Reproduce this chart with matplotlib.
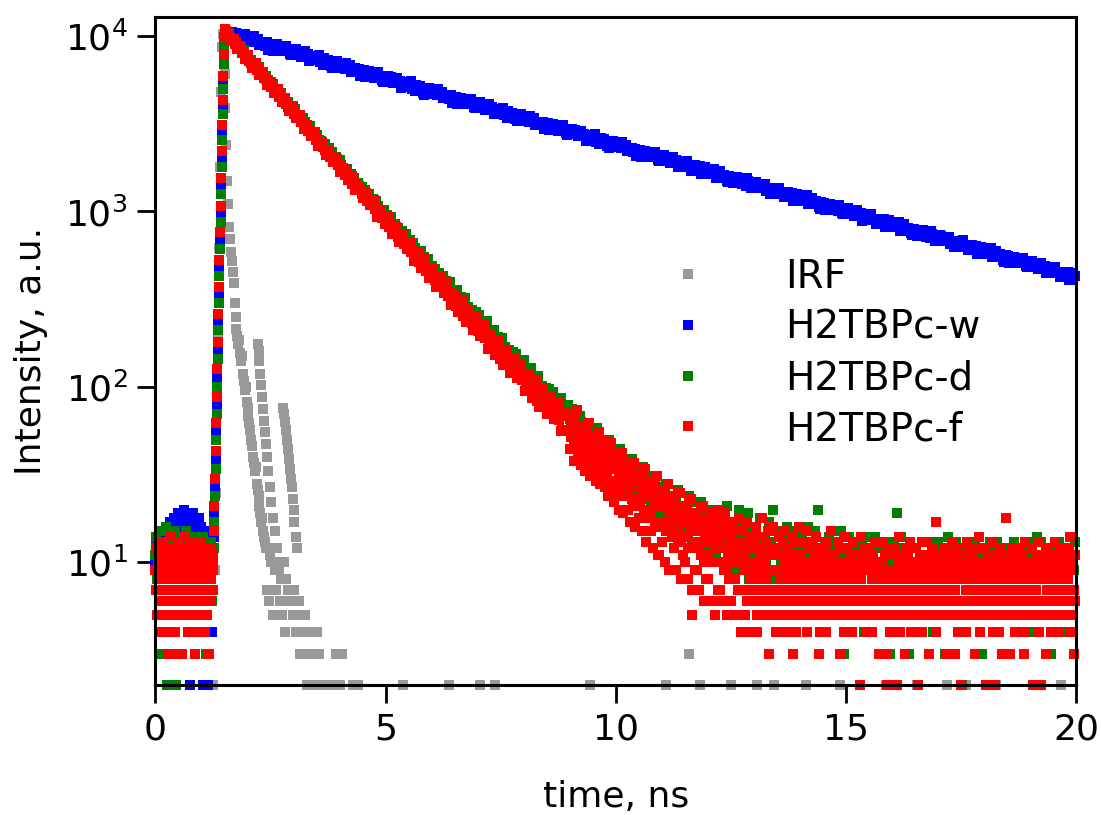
import numpy as np
import matplotlib
matplotlib.use("Agg")
import matplotlib.pyplot as plt
from matplotlib.ticker import NullLocator, FixedLocator

plt.rcParams['font.family'] = ['DejaVu Sans']
plt.rcParams['mathtext.fontset'] = 'dejavusans'

# ---------------- data (counts) ----------------
labels = ["IRF", "H2TBPc-w", "H2TBPc-d", "H2TBPc-f"]
colors = ["#999999", "#0000ff", "#008000", "#ff0000"]

# channel grids (ns)
pre_step, rise_start, rise_step = 0.02, 1.27, 0.012
blue_start, blue_step = 1.52, 0.05
blue2_start, blue2_step = 1.545, 0.1
dec_start, dec_step = 1.52, 0.04
dec2_start, dec2_step = 1.54, 0.08
tail_start, tail_step = 9.0, 0.025
pre2_start, tail2_start = 0.01, 9.0125

red_pre = [9, 12, 7, 10, 5, 11, 8, 13, 9, 6, 10, 12, 4, 9, 11, 8, 14, 7, 10, 12,
           9, 3, 11, 8, 13, 10, 6, 12, 9, 11, 7, 14, 10, 8, 12, 5, 9, 11, 13, 7,
           10, 9, 4, 12, 8, 11, 10, 6, 13, 9, 7, 11, 10, 12, 5, 9, 8, 11, 3, 10,
           12, 7, 9, 11]
red_pre2 = [7, 5, 10, 6, 8, 4, 9, 7, 11, 5, 8, 6, 10, 3, 7, 9, 5, 8, 6, 12,
            7, 4, 9, 6, 8, 5, 10, 7, 3, 9, 6, 8, 11, 5, 7, 4, 9, 6, 8, 10,
            5, 7, 3, 9, 6, 8, 4, 11, 7, 5, 9, 6, 10, 4, 8, 7, 5, 9, 3, 6,
            8, 10, 7]
green_pre = [11, 14, 8, 10, 3, 12, 9, 15, 13, 7, 11, 16, 10, 2, 12, 9, 14, 11, 6, 13,
             10, 15, 2, 12, 8, 11, 14, 9, 12, 10, 7, 13, 11, 15, 9, 12, 4, 10, 13, 8,
             11, 14, 10, 6, 12, 9, 13, 11, 5, 10, 12, 8, 14, 11, 9, 3, 12, 10, 7, 11,
             13, 6, 10, 12]
blue_pre = [10, 13, 9, 12, 8, 14, 11, 3, 12, 15, 10, 13, 16, 11, 14, 12, 17, 10, 15, 13,
            18, 12, 16, 14, 11, 19, 15, 13, 17, 12, 16, 20, 14, 11, 18, 13, 15, 2, 12, 17,
            14, 19, 11, 16, 13, 15, 12, 18, 14, 10, 16, 13, 2, 12, 15, 11, 14, 2, 13, 10,
            12, 4, 11, 9]

blue_rise = [14, 19, 27, 38, 55, 78, 112, 160, 230, 330, 470, 680, 960, 1380, 1950,
             2800, 3900, 5400, 7300, 9300]
green_rise = [12, 17, 24, 34, 50, 70, 100, 145, 210, 300, 430, 610, 870, 1250, 1780,
              2550, 3600, 5000, 6900, 9000]
red_rise = [15, 21, 30, 43, 62, 88, 126, 180, 260, 370, 530, 760, 1080, 1550, 2200,
            3100, 4300, 5900, 7900, 9800]

blue_decay = [
    10660, 10050, 10380, 10590, 9890, 10000, 9520, 10120, 9630, 9830,
    9490, 9790, 9230, 9330, 9620, 8890, 9180, 8820, 9190, 8480,
    9050, 8710, 8290, 8730, 8400, 8740, 8160, 8340, 7930, 8100,
    8050, 7820, 8230, 7610, 7930, 7630, 7860, 7260, 7570, 7570,
    7530, 7100, 7330, 7480, 6980, 7060, 6720, 7140, 6800, 6940,
    6700, 6910, 6520, 6590, 6790, 6280, 6480, 6230, 6490, 5990,
    6390, 6150, 5850, 6160, 5930, 6170, 5760, 5890, 5600, 5720,
    5690, 5530, 5810, 5370, 5600, 5390, 5550, 5130, 5350, 5350,
    5320, 5010, 5170, 5280, 4930, 4990, 4740, 5040, 4800, 4900,
    4730, 4880, 4600, 4660, 4800, 4440, 4580, 4400, 4580, 4230,
    4510, 4340, 4130, 4350, 4190, 4360, 4070, 4160, 3960, 4040,
    4020, 3900, 4100, 3800, 3960, 3800, 3920, 3620, 3780, 3780,
    3760, 3540, 3650, 3730, 3480, 3520, 3350, 3560, 3390, 3460,
    3340, 3450, 3250, 3290, 3390, 3130, 3230, 3110, 3240, 2990,
    3190, 3070, 2920, 3070, 2960, 3080, 2870, 2940, 2790, 2850,
    2840, 2750, 2900, 2680, 2790, 2690, 2770, 2560, 2670, 2670,
    2650, 2500, 2580, 2630, 2460, 2490, 2370, 2520, 2400, 2450,
    2360, 2430, 2300, 2320, 2390, 2210, 2280, 2190, 2280, 2110,
    2250, 2170, 2060, 2170, 2090, 2170, 2030, 2070, 1970, 2020,
    2000, 1950, 2050, 1890, 1970, 1900, 1960, 1810, 1880, 1880,
    1930, 1780, 1820, 1720, 1830, 1740, 1810, 1640, 1710, 1730,
    1630, 1730, 1650, 1560, 1660, 1690, 1560, 1600, 1500, 1600,
    1570, 1480, 1530, 1560, 1460, 1480, 1400, 1490, 1420, 1450,
    1400, 1440, 1360, 1380, 1420, 1310, 1350, 1300, 1360, 1250,
    1360, 1260, 1290, 1210, 1290, 1230, 1280, 1160, 1210, 1220,
    1150, 1230, 1170, 1100, 1170, 1190, 1100, 1130, 1060, 1130,
    1120, 1080, 1030, 1080, 1040, 1080, 1010, 1030, 980, 1000,
    999, 970, 1021, 944, 983, 946, 975, 900, 939, 939,
    962, 890, 909, 856, 911, 867, 903, 817, 853, 862,
    815, 866, 825, 777, 827, 844, 780, 797, 751, 798,
    785, 740, 765, 780, 728, 737, 701, 745, 710, 724,
    699, 721, 680, 688, 708, 655, 676, 650, 677, 625,
    679, 628, 642, 605, 644, 613, 638, 578, 602, 609,
    575, 612, 583, 549, 583, 595, 551, 563, 530, 563,
    560, 539, 513, 541, 520, 541, 506, 516, 491, 502,
    498, 484, 510, 470, 491, 472, 486, 449, 469, 468,
    480, 444, 453, 427, 454, 433, 450, 408, 425, 429]

blue_decay2 = [
    10500, 9718, 10355, 9287, 10195, 9351, 9941, 8848, 9238, 8367,
    8222, 8940, 8194, 8800, 7752, 8420, 7801, 8209, 7154, 7704,
    7792, 6863, 7313, 6559, 7200, 6604, 7020, 6248, 6524, 5909,
    5806, 6314, 5787, 6215, 5474, 5946, 5509, 5797, 5052, 5441,
    5502, 4846, 5164, 4631, 5084, 4664, 4957, 4412, 4607, 4173,
    4100, 4458, 4086, 4389, 3866, 4199, 3890, 4094, 3568, 3842,
    3886, 3423, 3647, 3271, 3590, 3293, 3501, 3116, 3254, 2947,
    2896, 3149, 2886, 3100, 2730, 2966, 2748, 2891, 2520, 2714,
    2744, 2417, 2576, 2310, 2536, 2326, 2472, 2201, 2298, 2081,
    2045, 2224, 2038, 2189, 1928, 2095, 1941, 2042, 1780, 1917,
    1938, 1707, 1818, 1631, 1790, 1642, 1746, 1554, 1622, 1469,
    1444, 1570, 1439, 1545, 1361, 1479, 1370, 1442, 1256, 1353,
    1368, 1205, 1284, 1152, 1264, 1160, 1233, 1097, 1146, 1038,
    1020, 1109, 1016, 1092, 962, 1044, 968, 1018, 887, 956,
    967, 851, 907, 814, 893, 819, 871, 775, 809, 733,
    720, 783, 718, 771, 679, 738, 683, 719, 627, 675,
    683, 601, 641, 574, 631, 578, 615, 547, 571, 518,
    509, 553, 507, 544, 480, 521, 483, 508, 443, 477,
    482, 425, 452, 406, 445]

red_decay = [
    10940, 10170, 10110, 9460, 9620, 9000, 9150, 8630, 8710, 7970,
    8100, 7530, 7770, 7330, 7020, 6920, 6930, 6390, 6450, 6130,
    6180, 5740, 5710, 5340, 5430, 5090, 5170, 4880, 4920, 4500,
    4580, 4250, 4390, 4140, 3960, 3910, 3910, 3610, 3640, 3460,
    3490, 3240, 3230, 3020, 3070, 2870, 2920, 2750, 2780, 2540,
    2590, 2400, 2480, 2340, 2240, 2210, 2210, 2040, 2060, 1960,
    1970, 1830, 1820, 1700, 1730, 1620, 1650, 1560, 1570, 1440,
    1460, 1360, 1400, 1320, 1260, 1250, 1250, 1150, 1160, 1100,
    1133, 1039, 1040, 961, 992, 918, 947, 885, 903, 812,
    841, 759, 814, 755, 716, 713, 727, 649, 671, 629,
    650, 587, 593, 541, 568, 518, 542, 503, 519, 457,
    479, 433, 464, 430, 408, 407, 415, 371, 383, 360,
    382, 331, 342, 300, 329, 290, 317, 285, 305, 255,
    278, 241, 274, 247, 231, 234, 244, 208, 223, 205,
    223, 189, 198, 170, 192, 165, 185, 165, 180, 145,
    162, 137, 161, 143, 133, 136, 144, 120, 131, 119,
    133, 109, 116, 97, 113, 95, 111, 96, 108, 83,
    97, 79, 97, 85, 78, 81, 88, 70, 79, 71,
    81, 65, 70, 57, 69, 56, 68]

red_decay2 = [
    10685, 9497, 9624, 8472, 8668, 7400, 7807, 6601, 7030, 6013,
    6270, 5251, 5487, 4734, 4988, 4178, 4408, 3727, 3970, 3396,
    3540, 2966, 3098, 2673, 2817, 2359, 2490, 2105, 2242, 1917,
    1999, 1674, 1749, 1510, 1591, 1332, 1405, 1188, 1266, 1082,
    1159, 935, 1007, 843, 924, 745, 818, 666, 737, 608,
    671, 520, 584, 475, 536, 416, 470, 372, 428, 344,
    390, 291, 336, 266, 311, 233, 274, 210, 250, 196,
    228, 165, 197, 152, 183, 133, 161, 120, 147, 113,
    134, 95, 117, 87, 109, 77, 97, 70, 89, 66,
    81, 56, 71]

green_decay = [
    10780, 10020, 10350, 9770, 9360, 9240, 9260, 8550, 8630, 8210,
    8280, 7710, 7670, 7180, 7310, 6840, 6960, 6570, 6630, 6080,
    6180, 5750, 5940, 5610, 5370, 5300, 5310, 4900, 4950, 4710,
    4750, 4420, 4400, 4120, 4190, 3930, 3990, 3770, 3810, 3490,
    3550, 3300, 3410, 3220, 3080, 3040, 3050, 2810, 2840, 2700,
    2730, 2540, 2520, 2360, 2410, 2250, 2290, 2160, 2180, 2000,
    2040, 1890, 1960, 1850, 1770, 1750, 1750, 1610, 1630, 1550,
    1560, 1450, 1450, 1360, 1380, 1290, 1320, 1240, 1250, 1150,
    1183, 1083, 1142, 1068, 1018, 1010, 1022, 928, 948, 896,
    925, 836, 843, 771, 809, 740, 775, 718, 742, 654,
    686, 619, 664, 616, 585, 584, 596, 533, 551, 517,
    534, 483, 488, 446, 468, 428, 448, 416, 429, 380,
    403, 348, 396, 358, 334, 339, 356, 302, 324, 298,
    319, 277, 285, 252, 276, 244, 267, 240, 257, 215,
    237, 199, 236, 209, 194, 198, 211, 175, 192, 174,
    190, 161, 169, 146, 163, 141, 158, 142, 154, 124,
    142, 114, 142, 124, 114, 117, 128, 102, 115, 103,
    116, 95, 101, 85, 99, 83, 97, 84, 94, 73,
    86, 67, 87, 75, 68, 71, 79]

red_tail = [
    66, 52, 63, 55, 48, 61, 50, 58, 45, 54, 57, 44, 53, 47, 40, 55, 46, 50, 39, 48,
    49, 38, 46, 42, 35, 50, 40, 44, 33, 41, 43, 32, 38, 36, 29, 44, 34, 37, 28, 35,
    36, 27, 40, 31, 25, 35, 30, 34, 24, 32, 33, 24, 30, 27, 36, 22, 28, 31, 21, 27,
    29, 21, 27, 24, 32, 19, 25, 28, 18, 24, 26, 19, 24, 21, 29, 17, 22, 25, 11, 21,
    23, 17, 21, 26, 15, 20, 24, 16, 19, 22, 18, 22, 14, 20, 25, 15, 19, 13, 21, 17,
    20, 14, 18, 12, 22, 16, 5, 19, 13, 17, 15, 19, 12, 17, 21, 13, 16, 10, 18, 14,
    16, 11, 19, 13, 6, 15, 18, 12, 14, 20, 13, 17, 10, 15, 12, 19, 9, 14, 16, 11,
    14, 10, 17, 12, 8, 15, 13, 18, 11, 13, 11, 15, 9, 13, 17, 10, 12, 14, 7, 12,
    13, 10, 16, 4, 12, 14, 11, 18, 9, 12, 10, 13, 15, 3, 11, 12, 9, 16, 11, 6,
    12, 9, 14, 11, 8, 13, 10, 15, 4, 11, 9, 12, 10, 14, 3, 11, 13, 8, 10, 16,
    11, 8, 13, 10, 9, 15, 4, 12, 10, 5, 10, 13, 8, 11, 14, 9, 12, 3, 10, 11,
    9, 12, 10, 4, 13, 11, 8, 15, 10, 9, 11, 8, 10, 13, 9, 3, 12, 10, 14, 8,
    10, 12, 5, 9, 11, 4, 13, 9, 10, 8, 8, 11, 2, 14, 10, 7, 12, 9, 5, 11,
    12, 9, 10, 4, 11, 13, 8, 10, 9, 3, 9, 10, 13, 8, 11, 3, 2, 12, 9, 6,
    11, 8, 9, 12, 2, 10, 14, 4, 9, 11, 10, 3, 12, 9, 11, 8, 13, 10, 4, 9,
    8, 12, 10, 2, 9, 11, 4, 13, 10, 8, 13, 9, 3, 11, 10, 8, 12, 9, 17, 10,
    9, 11, 8, 10, 5, 12, 9, 3, 11, 10, 10, 8, 13, 9, 11, 3, 10, 12, 8, 9,
    2, 11, 9, 10, 4, 13, 8, 10, 12, 9, 11, 9, 3, 12, 10, 8, 14, 9, 10, 7,
    10, 12, 2, 9, 11, 8, 10, 13, 4, 9, 2, 10, 8, 11, 9, 12, 3, 10, 9, 18,
    9, 11, 10, 3, 12, 8, 10, 4, 11, 9, 12, 8, 9, 11, 10, 3, 13, 9, 10, 8,
    10, 9, 12, 2, 8, 11, 9, 13, 4, 10, 2, 11, 9, 10, 3, 12, 10, 5, 9, 11,
    8, 10, 13, 9, 11, 4, 10, 12, 9, 10, 11, 9, 10, 8, 12, 9, 14, 10, 3, 11]

red_tail2 = [
    44, 70, 52, 38, 66, 47, 74, 41, 58, 36, 39, 60, 43, 33, 57, 36, 62, 31, 50, 40,
    33, 52, 29, 46, 37, 55, 28, 44, 34, 49, 27, 45, 31, 24, 40, 48, 26, 38, 22, 41,
    24, 39, 20, 35, 27, 42, 19, 33, 25, 37, 20, 34, 17, 30, 23, 37, 16, 28, 21, 32,
    18, 30, 15, 27, 20, 34, 13, 25, 19, 29, 15, 27, 12, 24, 17, 31, 11, 22, 16, 26,
    13, 24, 10, 22, 15, 28, 9, 20, 14, 23, 12, 22, 9, 19, 13, 25, 8, 17, 11, 21,
    10, 20, 8, 17, 12, 23, 7, 15, 9, 18, 9, 18, 7, 16, 11, 21, 6, 14, 8, 17,
    8, 16, 6, 15, 10, 19, 5, 13, 7, 12, 7, 15, 6, 12, 9, 17, 5, 11, 8, 13,
    6, 13, 8, 11, 5, 15, 7, 10, 4, 12, 7, 11, 5, 9, 6, 13, 4, 8, 10, 6,
    6, 9, 5, 7, 8, 8, 10, 6, 5, 7, 8, 5, 7, 6, 9, 6, 5, 11, 7, 4,
    5, 7, 6, 9, 7, 8, 6, 5, 7, 10, 7, 6, 8, 6, 5, 9, 4, 7, 6, 8,
    5, 7, 5, 8, 6, 9, 9, 5, 7, 6, 6, 8, 7, 7, 5, 10, 6, 4, 8, 5,
    7, 5, 9, 6, 6, 8, 5, 7, 8, 6, 5, 8, 6, 7, 7, 5, 9, 6, 4, 7,
    8, 6, 7, 6, 5, 9, 7, 6, 8, 5, 6, 7, 5, 8, 5, 6, 10, 4, 7, 6,
    5, 6, 8, 5, 7, 6, 6, 9, 5, 7, 7, 5, 6, 8, 9, 6, 5, 7, 4, 8,
    5, 8, 6, 7, 6, 5, 8, 6, 6, 7, 6, 5, 7, 5, 8, 6, 4, 7, 5, 9,
    8, 6, 5, 7, 6, 9, 6, 5, 7, 5, 5, 7, 6, 6, 8, 5, 7, 6, 4, 8,
    7, 5, 8, 6, 5, 6, 9, 7, 5, 6, 5, 6, 7, 8, 7, 5, 6, 4, 8, 5,
    6, 9, 5, 6, 7, 6, 8, 5, 5, 7, 6, 7, 6, 8, 5, 7, 4, 6, 9, 5,
    7, 5, 8, 5, 6, 6, 7, 5, 8, 6, 5, 6, 7, 4, 8, 6, 5, 9, 6, 7,
    6, 8, 5, 7, 5, 6, 8, 6, 7, 5, 5, 7, 6, 5, 9, 4, 6, 7, 5, 8,
    7, 5, 6, 8, 6, 7, 5, 6, 5, 9, 5, 8, 6, 5, 7, 5, 6, 8, 4, 6,
    6, 5, 7, 5, 8, 6, 6, 7, 6, 5, 8, 6, 5, 7, 4, 6, 9, 5, 7, 6]

green_tail = [
    72, 61, 75, 58, 66, 70, 55, 64, 60, 68, 63, 52, 60, 49, 57, 62, 47, 55, 51, 58,
    54, 45, 52, 42, 58, 47, 41, 50, 44, 49, 47, 39, 45, 36, 50, 41, 35, 44, 38, 42,
    42, 34, 39, 31, 44, 36, 30, 38, 33, 37, 37, 29, 35, 27, 39, 31, 26, 34, 29, 32,
    33, 25, 31, 24, 35, 27, 23, 30, 26, 28, 29, 22, 28, 20, 31, 24, 19, 27, 23, 25,
    26, 19, 25, 18, 28, 21, 17, 24, 20, 23, 24, 17, 22, 15, 26, 19, 16, 21, 18, 20,
    21, 16, 20, 14, 24, 17, 13, 19, 22, 16, 19, 15, 18, 13, 22, 16, 12, 17, 20, 14,
    18, 13, 17, 12, 6, 15, 20, 11, 16, 14, 16, 12, 19, 14, 10, 17, 13, 21, 11, 15,
    15, 11, 17, 13, 9, 16, 12, 20, 14, 10, 13, 17, 10, 14, 12, 19, 8, 15, 11, 13,
    12, 16, 9, 14, 11, 18, 10, 13, 7, 12, 14, 10, 12, 17, 9, 13, 11, 20, 8, 12,
    11, 15, 9, 12, 10, 14, 7, 13, 11, 16, 10, 13, 12, 8, 15, 11, 9, 14, 10, 6,
    12, 9, 14, 11, 7, 13, 10, 16, 9, 11, 9, 12, 10, 15, 8, 11, 20, 6, 10, 12,
    11, 8, 13, 10, 9, 14, 7, 12, 10, 11, 10, 13, 8, 11, 12, 9, 15, 10, 3, 11,
    9, 11, 10, 14, 7, 12, 8, 10, 13, 9, 12, 8, 11, 9, 13, 10, 4, 11, 9, 14,
    10, 9, 12, 7, 11, 14, 9, 10, 8, 12, 8, 12, 10, 13, 9, 11, 7, 10, 3, 11,
    11, 9, 13, 10, 19, 12, 10, 7, 14, 9, 9, 12, 8, 10, 11, 3, 13, 9, 10, 12,
    12, 10, 9, 2, 11, 8, 13, 10, 9, 7, 10, 8, 11, 13, 9, 12, 4, 10, 11, 9,
    13, 9, 10, 8, 12, 10, 3, 11, 9, 14, 9, 11, 12, 7, 10, 9, 13, 8, 11, 10,
    11, 2, 9, 12, 10, 8, 11, 13, 9, 10, 8, 10, 13, 9, 11, 7, 10, 12, 3, 11,
    12, 9, 10, 11, 8, 13, 9, 10, 12, 5, 10, 13, 8, 9, 11, 10, 3, 12, 9, 11,
    9, 11, 10, 12, 8, 10, 13, 9, 11, 7, 11, 8, 12, 10, 9, 3, 11, 10, 13, 9,
    10, 12, 9, 11, 4, 10, 14, 9, 8, 11, 13, 9, 10, 8, 12, 11, 9, 10, 3, 12,
    9, 11, 12, 10, 8, 13, 10, 9, 11, 4, 11, 10, 8, 12, 9, 14, 10, 11, 9, 13]

irf_t = [0.35, 1.24,
         1.30, 1.32, 1.34, 1.36, 1.38, 1.40, 1.42, 1.44, 1.46, 1.48, 1.50, 1.52, 1.54, 1.56, 1.58,
         1.60, 1.62, 1.64, 1.66, 1.68, 1.70, 1.72, 1.74, 1.76, 1.78, 1.80, 1.82, 1.84, 1.86,
         1.88, 1.90, 1.92, 1.94, 1.96, 1.98,
         2.00, 2.02, 2.04, 2.06, 2.08, 2.10, 2.12, 2.14, 2.16, 2.18, 2.20, 2.22, 2.24, 2.26,
         2.28, 2.30, 2.32, 2.34, 2.36, 2.38, 2.40,
         2.44, 2.48, 2.52, 2.56, 2.60, 2.64, 2.68, 2.72, 2.76, 2.80, 2.84, 2.88, 2.92, 2.96,
         3.00, 3.04, 3.08, 3.12, 3.16, 3.20, 3.24, 3.28, 3.32, 3.36, 3.40, 3.44, 3.48, 3.52,
         3.56, 3.60, 3.68, 3.76, 3.84, 3.92, 4.00, 4.06, 4.30, 4.40,
         2.22, 2.24, 2.26, 2.28, 2.30, 2.32, 2.34, 2.36, 2.38, 2.40, 2.42, 2.45, 2.48, 2.51,
         2.55, 2.59, 2.63,
         2.78, 2.80, 2.82, 2.84, 2.86, 2.88, 2.90, 2.92, 2.94, 2.96, 2.98, 3.00, 3.02, 3.05, 3.08,
         2.43, 2.47, 2.55, 2.62, 2.70, 2.74, 2.82, 2.90, 2.98, 3.06, 3.14, 3.22, 3.30, 3.38,
         3.46, 3.54,
         5.38, 6.38, 7.05, 7.38, 9.44, 11.1, 11.6, 11.82, 12.5, 13.08, 13.43, 14.14, 14.88,
         15.88, 16.55, 17.2, 17.62, 18.26, 19.13, 19.67]
irf_v = [2, 2,
         9, 25, 70, 200, 620, 1800, 4800, 8600, 10300, 8900, 6100, 3900, 2400, 1500, 1100,
         820, 700, 590, 520, 450, 390, 300, 250, 215, 195, 175, 185, 155, 140,
         150, 118, 108, 96, 100, 82,
         76, 68, 62, 57, 50, 46, 40, 37, 33, 35, 28, 26, 24, 21,
         19, 17, 18, 15, 14, 13, 12,
         12, 11, 10, 10, 9, 10, 9, 8, 8, 10, 8, 7, 7, 6,
         7, 6, 5, 6, 5, 4, 5, 4, 4, 3, 4, 3, 3, 4,
         3, 2, 2, 2, 2, 3, 2, 3, 2, 2,
         176, 160, 140, 118, 102, 88, 75, 64, 55, 47, 40, 33, 27, 22,
         18, 15, 12,
         76, 70, 63, 57, 50, 44, 39, 34, 30, 27, 23, 20, 17, 14, 12,
         7, 6, 5, 7, 6, 5, 4, 6, 5, 4, 3, 3, 2, 2,
         2, 2,
         2, 2, 2, 2, 2, 2, 3, 2, 2, 2, 2, 2, 2,
         2, 2, 2, 2, 2, 2, 2]

# ---------------- assemble channel times ----------------
def grid(start, step, n):
    return start + step * np.arange(n)

series = [
    (np.array(irf_t), np.array(irf_v, float)),
    (np.concatenate([grid(0.0, pre_step, len(blue_pre)),
                     grid(rise_start, rise_step, len(blue_rise)),
                     grid(blue_start, blue_step, len(blue_decay)),
                     grid(blue2_start, blue2_step, len(blue_decay2))]),
     np.array(blue_pre + blue_rise + blue_decay + blue_decay2, float)),
    (np.concatenate([grid(0.0, pre_step, len(green_pre)),
                     grid(rise_start, rise_step, len(green_rise)),
                     grid(dec_start, dec_step, len(green_decay)),
                     grid(tail_start, tail_step, len(green_tail))]),
     np.array(green_pre + green_rise + green_decay + green_tail, float)),
    (np.concatenate([grid(0.0, pre_step, len(red_pre)),
                     grid(pre2_start, pre_step, len(red_pre2)),
                     grid(rise_start, rise_step, len(red_rise)),
                     grid(dec_start, dec_step, len(red_decay)),
                     grid(dec2_start, dec2_step, len(red_decay2)),
                     grid(tail_start, tail_step, len(red_tail)),
                     grid(tail2_start, tail_step, len(red_tail2))]),
     np.array(red_pre + red_pre2 + red_rise + red_decay + red_decay2 + red_tail + red_tail2,
              float)),
]

# ---------------- figure ----------------
fig = plt.figure(figsize=(11.01, 8.15), dpi=100)
ax = fig.add_axes([0.1412, 0.1595, 0.8361, 0.8202])

for (t, v), c, lab in zip(series, colors, labels):
    m = (v > 0) & (t >= 0) & (t <= 20)
    ax.plot(t[m], v[m], ls='none', marker='s', ms=7, mew=0, color=c,
            label=lab, clip_on=False)

ax.set_yscale('log')
ax.set_xlim(0, 20)
ax.set_ylim(2, 12900)
ax.set_xticks([0, 5, 10, 15, 20])
ax.yaxis.set_major_locator(FixedLocator([10, 100, 1000, 10000]))
ax.yaxis.set_minor_locator(NullLocator())
ax.xaxis.set_minor_locator(NullLocator())

ax.tick_params(which='major', direction='out', length=13, width=2, labelsize=26,
               pad=7, top=False, right=False, colors='black')
for s in ax.spines.values():
    s.set_linewidth(2.2)

ax.set_xlabel('time, ns', fontsize=26, labelpad=24)
ax.set_ylabel('Intensity, a.u.', fontsize=26, labelpad=12)

ax.legend(loc='upper left', bbox_to_anchor=(0.536, 0.6395), frameon=False, fontsize=28,
          handlelength=2.0, handletextpad=1.5, labelspacing=0.33, borderpad=0,
          borderaxespad=0, markerscale=1.0, numpoints=1)

fig.savefig('out.png', dpi=100, facecolor='white')
